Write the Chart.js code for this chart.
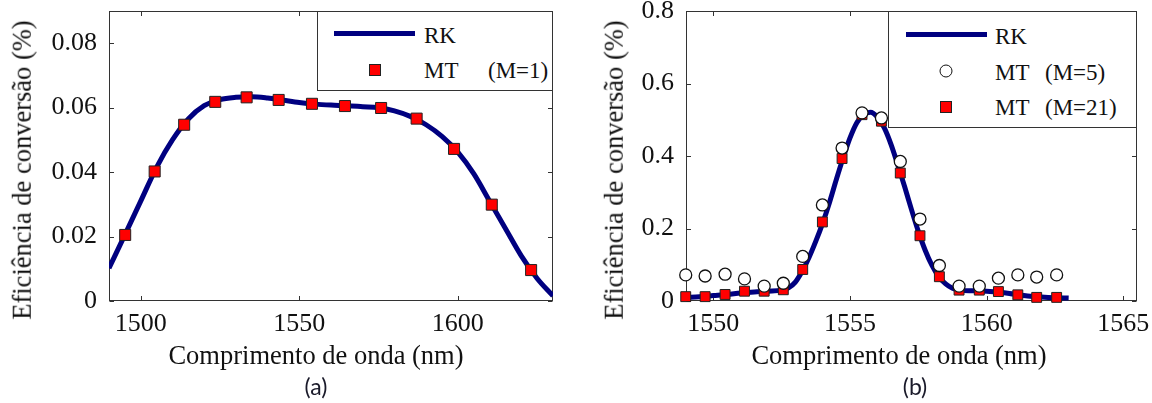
<!DOCTYPE html>
<html>
<head>
<meta charset="utf-8">
<script src="https://cdn.jsdelivr.net/npm/chart.js@4.4.1/dist/chart.umd.min.js"></script>
<style>
    html, body { margin: 0; padding: 0; background: #fff; }
    #wrap { position: relative; width: 1152px; height: 403px; overflow: hidden; }
    .panel { position: absolute; top: 0; width: 576px; height: 403px; }
    .txt { position: absolute; font-family: "Liberation Serif", "Times New Roman", serif; font-size: 26.5px;
           color: #111; white-space: nowrap; line-height: 1; transform: translate(-50%, -50%); }
    .ytitle { transform: translate(-50%, -50%) rotate(-90deg); }
    .tag { font-family: Lato, "Open Sans", sans-serif; font-size: 23px; color: #1a1a2a; }
    .legend { position: absolute; background: #fff; border: 1px solid #333; box-sizing: border-box; }
    .legend .ln { position: absolute; height: 5px; background: #000080; }
    .legend .lab { position: absolute; font-family: "Liberation Serif", "Times New Roman", serif; font-size: 23px;
                   color: #111; line-height: 1; transform: translateY(-50%); white-space: nowrap; }
    .legend .sq { position: absolute; width: 10px; height: 10px; background: #f00; border: 1px solid #222;
                  transform: translate(-50%, -50%); }
    .legend .ci { position: absolute; width: 11px; height: 11px; background: #fff; border: 1.3px solid #111;
                  border-radius: 50%; transform: translate(-50%, -50%); }
</style>
</head>
<body>
<div id="wrap">
    <div class="panel" style="left:0"><canvas id="chartA"></canvas></div>
    <div class="panel" style="left:576px"><canvas id="chartB"></canvas></div>

    <div class="txt ytitle" style="left:22px; top:170px">Eficiência de conversão (%)</div>
    <div class="txt" style="left:316px; top:355px">Comprimento de onda (nm)</div>
    <div class="txt tag" style="left:316px; top:386px">(a)</div>

    <div class="txt ytitle" style="left:614px; top:170px">Eficiência de conversão (%)</div>
    <div class="txt" style="left:899px; top:355px">Comprimento de onda (nm)</div>
    <div class="txt tag" style="left:915px; top:386px">(b)</div>

    <div class="legend" style="left:317px; top:11px; width:236px; height:80px">
        <div class="ln" style="left:16px; top:19px; width:81px"></div>
        <div class="lab" style="left:106px; top:23px">RK</div>
        <div class="sq" style="left:57px; top:58px"></div>
        <div class="lab" style="left:106px; top:58px">MT</div>
        <div class="lab" style="left:170px; top:58px">(M=1)</div>
    </div>

    <div class="legend" style="left:888px; top:11px; width:249px; height:117px">
        <div class="ln" style="left:17px; top:20px; width:81px"></div>
        <div class="lab" style="left:106px; top:24px">RK</div>
        <div class="ci" style="left:57px; top:59px"></div>
        <div class="lab" style="left:106px; top:60px">MT</div>
        <div class="lab" style="left:156px; top:60px">(M=5)</div>
        <div class="sq" style="left:57px; top:95px"></div>
        <div class="lab" style="left:106px; top:95px">MT</div>
        <div class="lab" style="left:156px; top:95px">(M=21)</div>
    </div>
</div>

<script>
// painel (a)
const rkA_x = [1490, 1495, 1500, 1505, 1510, 1515, 1520, 1525, 1530, 1535, 1540, 1545, 1550, 1555,
               1560, 1565, 1570, 1575, 1580, 1585, 1590, 1595, 1600, 1605, 1610, 1615, 1620, 1625, 1630];
const rkA_y = [0.0102, 0.0205, 0.0310, 0.0415, 0.0500, 0.0565, 0.0606, 0.0625, 0.0632, 0.0634, 0.0630,
               0.0623, 0.0616, 0.0611, 0.0608, 0.0606, 0.0603, 0.0600, 0.0590, 0.0573, 0.0547, 0.0511,
               0.0462, 0.0395, 0.0310, 0.0225, 0.0140, 0.0070, 0.0016];
const mtA_x = [1495.1, 1504.4, 1513.7, 1523.5, 1533.4, 1543.5, 1554.0, 1564.4, 1575.8, 1587.0, 1598.8, 1610.7, 1623.1];
const mtA_y = [0.0205, 0.0402, 0.0547, 0.0618, 0.0632, 0.0624, 0.0612, 0.0605, 0.0599, 0.0566, 0.0472, 0.0299, 0.0096];
const xTicksA = [1500, 1550, 1600];
const yTicksA = [0, 0.02, 0.04, 0.06, 0.08];
const yLabelsA = ['0', '0.02', '0.04', '0.06', '0.08'];

// painel (b)
const rkB_x = [1549.0, 1549.5, 1550.0, 1550.5, 1551.0, 1551.5, 1552.0, 1552.5, 1552.75, 1553.0, 1553.25,
               1553.5, 1553.75, 1554.0, 1554.25, 1554.5, 1554.75, 1555.0, 1555.25, 1555.5, 1555.75, 1556.0,
               1556.25, 1556.5, 1556.75, 1557.0, 1557.25, 1557.5, 1557.75, 1558.0, 1558.25, 1558.5, 1558.75,
               1559.0, 1559.5, 1560.0, 1560.5, 1561.0, 1561.5, 1562.0, 1562.5, 1563.0];
const rkB_y = [0.010, 0.012, 0.015, 0.018, 0.022, 0.025, 0.027, 0.030, 0.036, 0.052, 0.082,
               0.120, 0.165, 0.215, 0.272, 0.335, 0.395, 0.450, 0.492, 0.515, 0.521, 0.508,
               0.478, 0.432, 0.375, 0.315, 0.252, 0.192, 0.140, 0.098, 0.067, 0.047, 0.035,
               0.030, 0.028, 0.027, 0.024, 0.019, 0.014, 0.011, 0.009, 0.008];
const mtB_x = [1548.99, 1549.70, 1550.43, 1551.14, 1551.86, 1552.56, 1553.27, 1553.99, 1554.71, 1555.44,
               1556.15, 1556.84, 1557.56, 1558.27, 1558.99, 1559.73, 1560.43, 1561.14, 1561.83, 1562.56];
const mt5_y  = [0.072, 0.069, 0.074, 0.061, 0.041, 0.049, 0.123, 0.265, 0.422, 0.519,
                0.505, 0.385, 0.226, 0.098, 0.041, 0.041, 0.063, 0.072, 0.066, 0.072];
const mt21_y = [0.012, 0.012, 0.018, 0.027, 0.027, 0.031, 0.087, 0.218, 0.393, 0.514,
                0.496, 0.353, 0.180, 0.067, 0.030, 0.030, 0.026, 0.017, 0.010, 0.010];
const xTicksB = [1550, 1555, 1560, 1565];
const yTicksB = [0, 0.2, 0.4, 0.6, 0.8];
const yLabelsB = ['0', '0.2', '0.4', '0.6', '0.8'];

const NAVY = '#000080';
const serif = '"Liberation Serif", "Times New Roman", serif';

function pts(xs, ys) {
    return xs.map((x, i) => ({ x: x, y: ys[i] }));
}

// caixa dos eixos com marcas para dentro (estilo MATLAB)
const boxTicks = {
    id: 'boxTicks',
    beforeDatasetsDraw(chart) {
        const { ctx, chartArea: a, scales } = chart;
        const L = Math.round(a.left) + 0.5, R = Math.round(a.right) - 0.5;
        const T = Math.round(a.top) + 0.5, B = Math.round(a.bottom) - 0.5;
        const len = 4.5;
        ctx.save();
        ctx.strokeStyle = '#333';
        ctx.lineWidth = 1;
        ctx.strokeRect(L, T, R - L, B - T);
        ctx.beginPath();
        scales.x.ticks.forEach(t => {
            const px = Math.round(scales.x.getPixelForValue(t.value)) + 0.5;
            ctx.moveTo(px, B); ctx.lineTo(px, B - len);
            ctx.moveTo(px, T); ctx.lineTo(px, T + len);
        });
        scales.y.ticks.forEach(t => {
            const py = Math.round(scales.y.getPixelForValue(t.value)) + 0.5;
            ctx.moveTo(L, py); ctx.lineTo(L + len, py);
            ctx.moveTo(R, py); ctx.lineTo(R - len, py);
        });
        ctx.stroke();
        ctx.restore();
    }
};

function makeScales(xmin, xmax, xTicks, ymax, yTicks, yLabels) {
    return {
        x: {
            type: 'linear', min: xmin, max: xmax,
            grid: { display: false, drawTicks: false },
            border: { display: false },
            afterBuildTicks: s => { s.ticks = xTicks.map(v => ({ value: v })); },
            afterFit: s => { s.height = 40; s.paddingLeft = 0; s.paddingRight = 0; },
            ticks: {
                color: '#111', padding: 12.5, maxRotation: 0,
                font: { family: serif, size: 26, lineHeight: 0.8 },
                callback: v => String(v)
            }
        },
        y: {
            type: 'linear', min: 0, max: ymax,
            grid: { display: false, drawTicks: false },
            border: { display: false },
            afterBuildTicks: s => { s.ticks = yTicks.map(v => ({ value: v })); },
            afterFit: s => { s.width = 60; s.paddingTop = 0; s.paddingBottom = 0; },
            ticks: {
                color: '#111', padding: 12,
                font: { family: serif, size: 26, lineHeight: 0.8 },
                callback: v => yLabels[yTicks.indexOf(v)] ?? ''
            }
        }
    };
}

const commonOpts = {
    responsive: false,
    animation: false,
    events: [],
    plugins: { legend: { display: false }, tooltip: { enabled: false } }
};

document.addEventListener('DOMContentLoaded', function () {
    const cA = document.getElementById('chartA');
    cA.width = 576; cA.height = 403;
    new Chart(cA.getContext('2d'), {
        type: 'line',
        data: {
            datasets: [
                {
                    label: 'MT (M=1)', data: pts(mtA_x, mtA_y), order: 1,
                    showLine: false, pointStyle: 'rect', pointRadius: 7.8,
                    pointBackgroundColor: '#ff0000', pointBorderColor: '#222', pointBorderWidth: 1,
                    clip: false
                },
                {
                    label: 'RK', data: pts(rkA_x, rkA_y), order: 2,
                    borderColor: NAVY, borderWidth: 5, pointRadius: 0,
                    cubicInterpolationMode: 'monotone', fill: false
                }
            ]
        },
        options: Object.assign({}, commonOpts, {
            layout: { padding: { left: 49, right: 23, top: 11, bottom: 62 } },
            scales: makeScales(1490, 1630, xTicksA, 0.09, yTicksA, yLabelsA)
        }),
        plugins: [boxTicks]
    });

    const cB = document.getElementById('chartB');
    cB.width = 576; cB.height = 403;
    new Chart(cB.getContext('2d'), {
        type: 'line',
        data: {
            datasets: [
                {
                    label: 'MT (M=5)', data: pts(mtB_x, mt5_y), order: 1,
                    showLine: false, pointStyle: 'circle', pointRadius: 6,
                    pointBackgroundColor: '#ffffff', pointBorderColor: '#111', pointBorderWidth: 1.3,
                    clip: false
                },
                {
                    label: 'MT (M=21)', data: pts(mtB_x, mt21_y), order: 2,
                    showLine: false, pointStyle: 'rect', pointRadius: 7,
                    pointBackgroundColor: '#ff0000', pointBorderColor: '#222', pointBorderWidth: 1,
                    clip: false
                },
                {
                    label: 'RK', data: pts(rkB_x, rkB_y), order: 3,
                    borderColor: NAVY, borderWidth: 5, pointRadius: 0,
                    cubicInterpolationMode: 'monotone', fill: false
                }
            ]
        },
        options: Object.assign({}, commonOpts, {
            layout: { padding: { left: 50, right: 15, top: 11, bottom: 62 } },
            scales: makeScales(1549.0, 1565.5, xTicksB, 0.8, yTicksB, yLabelsB)
        }),
        plugins: [boxTicks]
    });
});
</script>
</body>
</html>
